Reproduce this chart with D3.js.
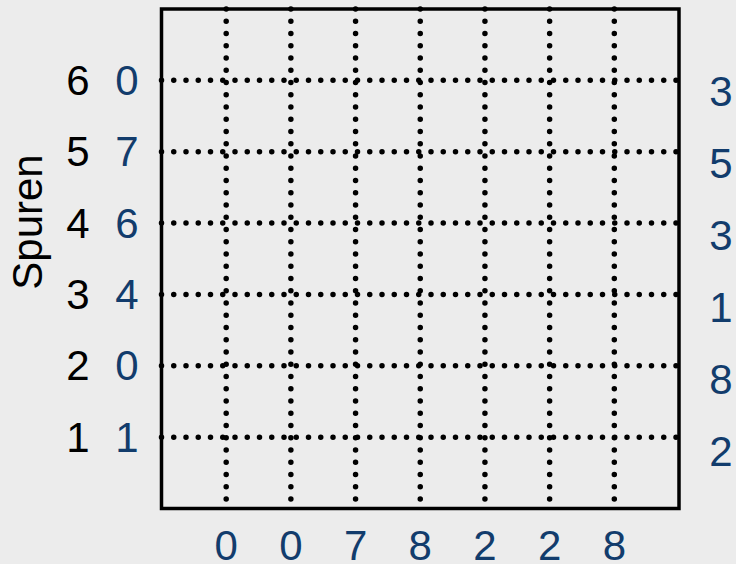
<!DOCTYPE html>
<html lang="en">
<head>
  <meta charset="utf-8">
  <title>Spuren</title>
  <script src="https://d3js.org/d3.v7.min.js"></script>
  <style>
    html, body { margin: 0; padding: 0; background: #ececec; }
    svg { display: block; }
    text { font-family: "Liberation Sans", Arial, sans-serif; font-size: 42px; }
  </style>
</head>
<body>

<svg width="736" height="564"></svg>

<script>
  // tracks 1..6 (rows) and columns 1..7
  var rows = [1, 2, 3, 4, 5, 6];
  var rowValues = [1, 0, 4, 6, 7, 0];
  var rightValues = [2, 8, 1, 3, 5, 3];
  var cols = [1, 2, 3, 4, 5, 6, 7];
  var colValues = [0, 0, 7, 8, 2, 2, 8];
  var axisTitle = "Spuren";

  var blue = "#123c6c";

  var svg = d3.select("svg");

  var x = d3.scaleLinear().domain([0, 8]).range([161.5, 679]);
  var y = d3.scaleLinear().domain([0, 7]).range([508.5, 9]);
  // right hand labels sit a little lower than the grid rows
  var yRight = d3.scaleLinear().domain([0, 7]).range([523, 19]);

  // dotted grid
  svg.append("g").selectAll("line")
      .data(cols)
      .enter().append("line")
      .attr("x1", function(d) { return x(d); })
      .attr("x2", function(d) { return x(d); })
      .attr("y1", y(7))
      .attr("y2", y(0))
      .attr("stroke", "#000")
      .attr("stroke-width", 5.5)
      .attr("stroke-linecap", "round")
      .attr("stroke-dasharray", "0,12.25");

  svg.append("g").selectAll("line")
      .data(rows)
      .enter().append("line")
      .attr("x1", x(0))
      .attr("x2", x(8))
      .attr("y1", function(d) { return y(d); })
      .attr("y2", function(d) { return y(d); })
      .attr("stroke", "#000")
      .attr("stroke-width", 5.5)
      .attr("stroke-linecap", "round")
      .attr("stroke-dasharray", "0,12.25");

  // frame
  svg.append("rect")
      .attr("x", x(0))
      .attr("y", y(7))
      .attr("width", x(8) - x(0))
      .attr("height", y(0) - y(7))
      .attr("fill", "none")
      .attr("stroke", "#000")
      .attr("stroke-width", 3.5);

  // left labels: track number and value
  svg.append("g").selectAll("text")
      .data(rows)
      .enter().append("text")
      .attr("x", 78)
      .attr("y", function(d) { return y(d); })
      .attr("dy", "0.35em")
      .attr("text-anchor", "middle")
      .attr("fill", "#000")
      .text(function(d) { return d; });

  svg.append("g").selectAll("text")
      .data(rows)
      .enter().append("text")
      .attr("x", 127)
      .attr("y", function(d) { return y(d); })
      .attr("dy", "0.35em")
      .attr("text-anchor", "middle")
      .attr("fill", blue)
      .text(function(d, i) { return rowValues[i]; });

  // right labels
  svg.append("g").selectAll("text")
      .data(rows)
      .enter().append("text")
      .attr("x", 721)
      .attr("y", function(d) { return yRight(d); })
      .attr("dy", "0.35em")
      .attr("text-anchor", "middle")
      .attr("fill", blue)
      .text(function(d, i) { return rightValues[i]; });

  // bottom labels
  svg.append("g").selectAll("text")
      .data(cols)
      .enter().append("text")
      .attr("x", function(d) { return x(d); })
      .attr("y", 560)
      .attr("text-anchor", "middle")
      .attr("fill", blue)
      .text(function(d, i) { return colValues[i]; });

  svg.append("text")
      .attr("transform", "translate(42," + 222 + ") rotate(-90)")
      .attr("text-anchor", "middle")
      .attr("fill", "#000")
      .text(axisTitle);
</script>

</body>
</html>
